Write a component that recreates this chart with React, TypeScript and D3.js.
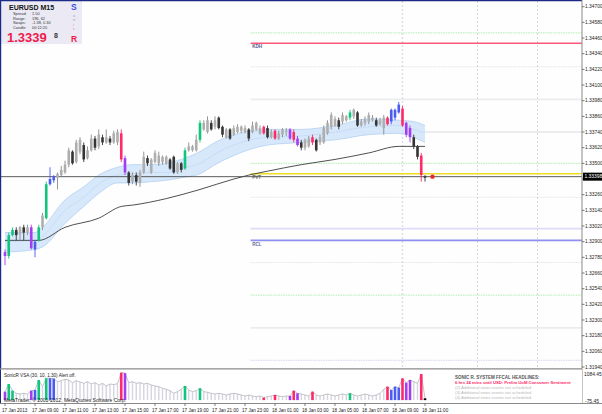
import React from 'react';
import * as d3 from 'd3';

// EURUSD M15, 17 Jan 07:00 .. 18 Jan 11:00 (113 bars)
const opens = [
  1.3282, 1.3279, 1.3295, 1.3299, 1.3296, 1.3301, 1.3297, 1.3301, 1.3284, 1.3291,
  1.3301, 1.3308, 1.3334, 1.3337, 1.3339, 1.3341, 1.3343, 1.3349, 1.3359, 1.3351,
  1.3359, 1.3364, 1.3354, 1.3360, 1.3369, 1.3363, 1.3370, 1.3366, 1.3369, 1.3366,
  1.3366, 1.3373, 1.3354, 1.3343, 1.3336, 1.3341, 1.3335, 1.3343, 1.3354, 1.3343,
  1.3351, 1.3350, 1.3351, 1.3350, 1.3353, 1.3355, 1.3343, 1.3350, 1.3346, 1.3360,
  1.3360, 1.3360, 1.3368, 1.3376, 1.3374, 1.3381, 1.3378, 1.3385, 1.3378, 1.3370,
  1.3376, 1.3372, 1.3374, 1.3375, 1.3374, 1.3376, 1.3374, 1.3376, 1.3373, 1.3378,
  1.3377, 1.3370, 1.3375, 1.3369, 1.3372, 1.3374, 1.3376, 1.3374, 1.3369, 1.3366,
  1.3362, 1.3363, 1.3370, 1.3368, 1.3366, 1.3366, 1.3373, 1.3378, 1.3379, 1.3383,
  1.3382, 1.3383, 1.3385, 1.3386, 1.3389, 1.3379, 1.3381, 1.3382, 1.3383, 1.3383,
  1.3380, 1.3377, 1.3385, 1.3382, 1.3385, 1.3389, 1.3392, 1.3381, 1.3377, 1.3370,
  1.3363, 1.3356, 1.3340,
];
const highs = [
  1.3284, 1.3297, 1.3301, 1.3301, 1.3302, 1.3303, 1.3303, 1.3303, 1.3291, 1.3303,
  1.3312, 1.3336, 1.3347, 1.3341, 1.3343, 1.3348, 1.3352, 1.3362, 1.3360, 1.3368,
  1.3370, 1.3366, 1.3363, 1.3372, 1.3371, 1.3376, 1.3372, 1.3376, 1.3371, 1.3375,
  1.3376, 1.3376, 1.3356, 1.3344, 1.3343, 1.3343, 1.3345, 1.3359, 1.3356, 1.3354,
  1.3360, 1.3359, 1.3356, 1.3356, 1.3354, 1.3356, 1.3351, 1.3351, 1.3362, 1.3366,
  1.3364, 1.3372, 1.3383, 1.3383, 1.3386, 1.3383, 1.3386, 1.3386, 1.3379, 1.3377,
  1.3377, 1.3379, 1.3380, 1.3379, 1.3379, 1.3377, 1.3382, 1.3382, 1.3379, 1.3379,
  1.3379, 1.3376, 1.3376, 1.3375, 1.3377, 1.3377, 1.3377, 1.3376, 1.3371, 1.3368,
  1.3369, 1.3371, 1.3372, 1.3369, 1.3372, 1.3379, 1.3383, 1.3389, 1.3386, 1.3385,
  1.3389, 1.3387, 1.3391, 1.3392, 1.3390, 1.3384, 1.3386, 1.3389, 1.3387, 1.3385,
  1.3385, 1.3387, 1.3386, 1.3392, 1.3392, 1.3397, 1.3394, 1.3382, 1.3379, 1.3372,
  1.3364, 1.3358, 1.3341,
];
const lows = [
  1.3272, 1.3277, 1.3294, 1.3291, 1.3291, 1.3291, 1.3295, 1.3284, 1.3278, 1.3290,
  1.3299, 1.3307, 1.3333, 1.3335, 1.3330, 1.3340, 1.3342, 1.3347, 1.3349, 1.3350,
  1.3357, 1.3351, 1.3353, 1.3359, 1.3360, 1.3361, 1.3364, 1.3365, 1.3364, 1.3365,
  1.3364, 1.3351, 1.3341, 1.3333, 1.3334, 1.3333, 1.3332, 1.3342, 1.3348, 1.3342,
  1.3350, 1.3348, 1.3349, 1.3349, 1.3345, 1.3342, 1.3342, 1.3343, 1.3345, 1.3359,
  1.3359, 1.3359, 1.3366, 1.3375, 1.3373, 1.3375, 1.3376, 1.3376, 1.3370, 1.3369,
  1.3368, 1.3371, 1.3373, 1.3373, 1.3373, 1.3367, 1.3373, 1.3375, 1.3372, 1.3372,
  1.3369, 1.3369, 1.3368, 1.3368, 1.3370, 1.3371, 1.3368, 1.3366, 1.3363, 1.3360,
  1.3360, 1.3362, 1.3364, 1.3359, 1.3364, 1.3365, 1.3372, 1.3376, 1.3378, 1.3376,
  1.3380, 1.3382, 1.3383, 1.3384, 1.3378, 1.3378, 1.3379, 1.3380, 1.3382, 1.3378,
  1.3379, 1.3372, 1.3379, 1.3380, 1.3383, 1.3388, 1.3378, 1.3370, 1.3366, 1.3361,
  1.3353, 1.3336, 1.3336,
];
const closes = [
  1.3279, 1.3295, 1.3299, 1.3295, 1.3301, 1.3297, 1.3301, 1.3285, 1.3290, 1.3301,
  1.3310, 1.3334, 1.3338, 1.3340, 1.3342, 1.3345, 1.3349, 1.3360, 1.3350, 1.3366,
  1.3368, 1.3353, 1.3360, 1.3369, 1.3362, 1.3372, 1.3366, 1.3370, 1.3366, 1.3373,
  1.3374, 1.3353, 1.3343, 1.3335, 1.3341, 1.3336, 1.3343, 1.3355, 1.3350, 1.3353,
  1.3358, 1.3356, 1.3355, 1.3355, 1.3346, 1.3343, 1.3350, 1.3345, 1.3360, 1.3363,
  1.3363, 1.3368, 1.3381, 1.3381, 1.3383, 1.3376, 1.3383, 1.3377, 1.3372, 1.3376,
  1.3369, 1.3377, 1.3378, 1.3378, 1.3377, 1.3369, 1.3379, 1.3381, 1.3377, 1.3373,
  1.3370, 1.3374, 1.3369, 1.3373, 1.3376, 1.3375, 1.3369, 1.3368, 1.3364, 1.3362,
  1.3368, 1.3369, 1.3366, 1.3360, 1.3370, 1.3377, 1.3381, 1.3387, 1.3384, 1.3378,
  1.3387, 1.3386, 1.3389, 1.3391, 1.3379, 1.3382, 1.3384, 1.3387, 1.3385, 1.3379,
  1.3383, 1.3385, 1.3380, 1.3391, 1.3391, 1.3395, 1.3379, 1.3372, 1.3370, 1.3363,
  1.3355, 1.3341, 1.3339,
];
// VSA signal per bar: n normal, g green, r red, p purple, b blue
const signals = [
  'p','g','g','n','n','n','n','p','b','g',
  'n','g','b','b','n','n','n','n','n','n',
  'n','n','n','n','n','n','n','n','n','n',
  'n','r','p','n','n','n','n','n','n','n',
  'n','n','n','n','n','n','n','n','g','n',
  'n','n','g','n','n','n','n','n','n','n',
  'n','n','n','n','n','n','n','n','n','r',
  'n','n','r','n','n','n','p','r','p','n',
  'n','n','r','n','n','n','n','n','n','n',
  'n','n','g','n','n','n','n','n','n','n',
  'n','n','r','b','b','b','r','p','p','n',
  'n','r','n',
];
const volumes = [
  339, 645, 378, 272, 245, 272, 245, 378, 405, 805,
  538, 872, 872, 860, 738, 778, 832, 805, 698, 778,
  725, 672, 738, 645, 698, 605, 672, 565, 645, 620,
  660, 1098, 1080, 698, 738, 672, 698, 645, 672, 605,
  565, 538, 472, 432, 378, 272, 339, 432, 565, 405,
  339, 378, 472, 339, 312, 272, 245, 272, 245, 205,
  245, 272, 245, 205, 165, 205, 165, 138, 165, 99,
  138, 165, 205, 165, 138, 165, 165, 378, 272, 245,
  205, 165, 339, 205, 165, 205, 245, 205, 165, 205,
  245, 205, 272, 205, 165, 205, 245, 205, 165, 205,
  272, 432, 538, 405, 538, 500, 872, 698, 805, 738,
  672, 1045, 72,
];

// Dragon band (EMA34 high / close / low) and EMA89, read at these bars
const bandBars = [0, 8, 10, 16, 21, 25, 30, 34, 39, 43, 47, 52, 56, 61, 70, 79, 88, 97, 105, 109, 112];
const bandUpper = [1.3297, 1.3297, 1.3301, 1.3322, 1.3332, 1.3341, 1.3347, 1.3349, 1.3349, 1.3350, 1.3353, 1.3359, 1.3366, 1.3372, 1.3376, 1.3376, 1.3379, 1.3384, 1.3383, 1.3382, 1.3379];
const bandMid = [1.3290, 1.3291, 1.3294, 1.3314, 1.3324, 1.3334, 1.3341, 1.3342, 1.3343, 1.3343, 1.3346, 1.3350, 1.3357, 1.3364, 1.3370, 1.3371, 1.3374, 1.3378, 1.3379, 1.3376, 1.3373];
const bandLower = [1.3282, 1.3284, 1.3286, 1.3304, 1.3317, 1.3327, 1.3335, 1.3335, 1.3336, 1.3337, 1.3339, 1.3342, 1.3349, 1.3356, 1.3364, 1.3366, 1.3368, 1.3372, 1.3373, 1.3370, 1.3366];
const emaBars = [0, 9, 16, 25, 31, 34, 43, 52, 61, 65, 70, 79, 88, 97, 105, 112];
const emaValues = [1.3291, 1.3291, 1.3301, 1.3308, 1.3317, 1.3318, 1.3323, 1.3330, 1.3338, 1.3341, 1.3344, 1.3349, 1.3353, 1.3358, 1.3363, 1.3363];

// pivot levels of the day
const levelPrices = [1.3450, 1.3442, 1.3424, 1.3399, 1.3374, 1.3350, 1.3342, 1.3324, 1.3300, 1.3291, 1.3274, 1.3249, 1.3224, 1.3199];
const levelKinds = ['green', 'kdh', 'dot', 'band', 'band', 'green', 'pvt', 'dot', 'lav', 'rcl', 'dot', 'green', 'band', 'lavdot'];
const levelLabels: Record<string, string> = { kdh: 'KDH', pvt: 'PVT', rcl: 'RCL' };
const levelStartBar = 65.5;
const gridBars = [106, 126, 142];

const priceTicks = [
  1.3194, 1.3206, 1.3218, 1.3230, 1.3242, 1.3254, 1.3266, 1.3278, 1.3290, 1.3302,
  1.3314, 1.3326, 1.3338, 1.3350, 1.3362, 1.3374, 1.3386, 1.3398, 1.3410, 1.3422,
  1.3434, 1.3446, 1.3458, 1.3470,
];
const bid = 1.33398;
const timeLabels = [
  '17 Jan 2013', '17 Jan 09:00', '17 Jan 11:00', '17 Jan 13:00', '17 Jan 15:00',
  '17 Jan 17:00', '17 Jan 19:00', '17 Jan 21:00', '17 Jan 23:00', '18 Jan 01:00',
  '18 Jan 03:00', '18 Jan 05:00', '18 Jan 07:00', '18 Jan 09:00', '18 Jan 11:00',
];
const timeLabelBars = [0, 8, 16, 24, 32, 40, 48, 56, 64, 72, 80, 88, 96, 104, 112];
const infoLines = [['Spread:', '1.50'], ['Range:', '196, 62'], ['Swaps:', '-1.38, 0.30'], ['Candle:', '00:12:20']];
const newsLines = [
  '6 hrs 24 mins until USD: Prelim UoM Consumer Sentiment',
  '(2)  Additional news events not scheduled',
  '(3)  Additional news events not scheduled',
  '(4)  Additional news events not scheduled',
];

const sigColor: Record<string, string> = { g: '#12c47e', r: '#ff2a68', p: '#a43cf2', b: '#4a5cf2' };
const levelStyle: Record<string, { stroke: string; w: number; dash?: string }> = {
  green: { stroke: '#bff0bf', w: 1.2, dash: '1.5,1' },
  kdh: { stroke: '#ff5a78', w: 1.4 },
  dot: { stroke: '#e4e4e4', w: 1, dash: '1.5,1' },
  band: { stroke: '#ececef', w: 1.8 },
  pvt: { stroke: '#eedd22', w: 1.6 },
  lav: { stroke: '#dedcf8', w: 1.6 },
  rcl: { stroke: '#8f8ff0', w: 1.6 },
  lavdot: { stroke: '#dcdcf6', w: 1.2, dash: '1.5,1' },
};

const FONT = '"Liberation Sans", Arial, sans-serif';
const PLOT_R = 582;

export default function App() {
  const n = opens.length;
  const x = d3.scaleLinear().domain([0, n - 1]).range([5, 425]);
  const y = d3.scaleLinear().domain([1.3194, 1.347]).range([367, 6.7]);
  const v = d3.scaleLinear().domain([-75.45, 1084.45]).range([402, 373]);

  const band = d3.area<number>()
    .x((_, i) => x(bandBars[i]))
    .y0((_, i) => y(bandLower[i]))
    .y1((_, i) => y(bandUpper[i]))
    .curve(d3.curveMonotoneX);
  const lineOf = (bars: number[], vals: number[]) =>
    d3.line<number>().x((_, i) => x(bars[i])).y((d) => y(d)).curve(d3.curveMonotoneX)(vals) || '';
  const volLine = d3.line<number>().x((_, i) => x(i)).y((d) => v(d))(volumes) || '';
  const v0 = v(0);

  return (
    <svg width={602} height={414} style={{ position: 'absolute', left: 0, top: 0, background: '#fff' }} fontFamily={FONT}>
      <rect x={0} y={0} width={602} height={414} fill="#ffffff" />
      <rect x={0} y={0} width={PLOT_R} height={368} fill="#fdfefd" />

      {/* grid verticals */}
      {gridBars.map((b, k) => (
        <line key={'g' + k} x1={x(b)} x2={x(b)} y1={1} y2={368}
          stroke={k === 0 ? '#dcdce8' : '#cfcfcf'} strokeWidth={k === 0 ? 1.4 : 0.8} strokeDasharray="2,2" />
      ))}

      {/* pivot levels */}
      {levelPrices.map((p, k) => {
        const st = levelStyle[levelKinds[k]];
        const lab = levelLabels[levelKinds[k]];
        return (
          <g key={'l' + k}>
            <line x1={x(levelStartBar)} x2={PLOT_R} y1={y(p)} y2={y(p)} stroke={st.stroke}
              strokeWidth={st.w} strokeDasharray={st.dash} />
            {lab && (
              <text x={x(levelStartBar) + 1.5} y={y(p) + 5.2} fontSize={4.6} fontWeight="bold"
                fill={lab === 'KDH' ? '#5a5a8a' : lab === 'RCL' ? '#6a6aa0' : '#707070'}>{lab}</text>
            )}
          </g>
        );
      })}

      {/* dragon band */}
      <path d={band(bandMid) || ''} fill="#d5e7fb" opacity={0.95} />
      <path d={lineOf(bandBars, bandUpper)} fill="none" stroke="#b3d0f3" strokeWidth={0.8} />
      <path d={lineOf(bandBars, bandLower)} fill="none" stroke="#b3d0f3" strokeWidth={0.8} />
      <path d={lineOf(bandBars, bandMid)} fill="none" stroke="#aecbf0" strokeWidth={0.7} strokeDasharray="1.5,1" />
      <path d={lineOf(emaBars, emaValues)} fill="none" stroke="#3c3c3c" strokeWidth={0.9} />

      {/* bid line */}
      <line x1={1} x2={PLOT_R} y1={y(bid)} y2={y(bid)} stroke="#4a4a4a" strokeWidth={0.9} />

      {/* candles */}
      {opens.map((o, i) => {
        const c = closes[i];
        const up = c >= o;
        const s = signals[i];
        const col = s !== 'n' ? sigColor[s] : up ? '#aeaeae' : '#353535';
        const wick = s !== 'n' ? sigColor[s] : up ? '#8a8a8a' : '#353535';
        const top = y(Math.max(o, c));
        const h = Math.max(1, Math.abs(y(o) - y(c)));
        return (
          <g key={'c' + i}>
            <line x1={x(i)} x2={x(i)} y1={y(highs[i])} y2={y(lows[i])} stroke={wick} strokeWidth={0.9} />
            <rect x={x(i) - 1.3} y={top} width={2.6} height={h} fill={col} />
          </g>
        );
      })}
      <circle cx={x(n + 1)} cy={y(bid)} r={2.2} fill="#e82828" />

      {/* info box */}
      <rect x={1} y={1} width={81} height={43} fill="#ebeaf4" />
      <text x={9} y={9.5} fontSize={7} fontWeight="bold" fill="#111">EURUSD  M15</text>
      {infoLines.map((l, k) => (
        <g key={'i' + k} fontSize={3.9} fill="#333">
          <text x={13} y={15.3 + k * 4.4}>{l[0]}</text>
          <text x={32} y={15.3 + k * 4.4}>{l[1]}</text>
        </g>
      ))}
      <text x={7} y={41.5} fontSize={13} fontWeight="bold" fill="#ee1c4c">1.3339</text>
      <text x={54} y={37.5} fontSize={7} fontWeight="bold" fill="#333">8</text>
      <text x={71} y={9.5} fontSize={8.5} fontWeight="bold" fill="#3a4ee8">S</text>
      {['o', 'n', 'i', 'c'].map((ch, k) => (
        <text key={'s' + k} x={73} y={16.5 + k * 4.6} fontSize={4.3} fill={k < 2 ? '#9a9ad0' : '#e08aa0'}>{ch}</text>
      ))}
      <text x={71} y={41.5} fontSize={8.5} fontWeight="bold" fill="#ee1c4c">R</text>

      {/* borders */}
      <line x1={0} x2={PLOT_R} y1={0.6} y2={0.6} stroke="#1c2a86" strokeWidth={1.2} />
      <line x1={0.6} x2={0.6} y1={0} y2={404} stroke="#1c2a86" strokeWidth={1.2} />
      <line x1={PLOT_R} x2={PLOT_R} y1={0} y2={404} stroke="#8a8a8a" strokeWidth={1} />

      {/* price axis */}
      {priceTicks.map((p, k) => (
        <g key={'p' + k}>
          <line x1={PLOT_R} x2={PLOT_R + 2.5} y1={y(p)} y2={y(p)} stroke="#444" strokeWidth={0.7} />
          {Math.abs(y(p) - y(bid)) > 7 && (
            <text x={PLOT_R + 3} y={y(p) + 1.7} fontSize={4.9} fill="#222">{p.toFixed(5)}</text>
          )}
        </g>
      ))}
      <rect x={PLOT_R + 1} y={y(bid) - 4} width={19} height={8} fill="#000" />
      <text x={PLOT_R + 2.5} y={y(bid) + 1.8} fontSize={4.9} fill="#fff">{bid.toFixed(5)}</text>

      {/* indicator panel */}
      <rect x={1} y={369} width={PLOT_R - 1} height={34} fill="#ffffff" />
      <line x1={0} x2={PLOT_R} y1={368.8} y2={368.8} stroke="#8a8a8a" strokeWidth={1.2} />
      {volumes.map((vol, i) => (
        <rect key={'v' + i} x={x(i) - 0.7} y={v(vol)} width={1.4} height={v0 - v(vol)} fill="#d6d6de" />
      ))}
      <path d={volLine} fill="none" stroke="#b4b4bc" strokeWidth={0.8} />
      {volumes.map((vol, i) => {
        const s = signals[i];
        if (i === n - 1) {
          return <rect key={'vs' + i} x={x(i) - 1.3} y={v(vol)} width={2.6} height={v0 - v(vol)} fill="#000" />;
        }
        if (s === 'n') return null;
        return <rect key={'vs' + i} x={x(i) - 1.3} y={v(vol)} width={2.6} height={v0 - v(vol)} fill={sigColor[s]} />;
      })}
      <text x={4} y={376.5} fontSize={4.6} fill="#222">SonicR VSA   (30, 10, 1.30)    Alert off.</text>
      <text x={4} y={402} fontSize={5} fill="#222">MetaTrader, © 2001-2012, MetaQuotes Software Corp.</text>
      <text x={455} y={378.5} fontSize={4.5} fontWeight="bold" fill="#555">SONIC R. SYSTEM  FFCAL HEADLINES:</text>
      {newsLines.map((t, k) => (
        <text key={'n' + k} x={455} y={384 + k * 5} fontSize={4.2} fontWeight={k === 0 ? 'bold' : 'normal'}
          fill={k === 0 ? '#ff2a68' : '#b8b8b8'}>{t}</text>
      ))}
      <text x={PLOT_R + 2} y={375.5} fontSize={4.9} fill="#222">1084.45</text>
      <text x={PLOT_R + 3} y={403} fontSize={4.9} fill="#222">-75.45</text>

      {/* time axis */}
      <line x1={0} x2={602} y1={403.5} y2={403.5} stroke="#8a8a8a" strokeWidth={1} />
      {timeLabels.map((t, k) => (
        <g key={'t' + k}>
          <line x1={x(timeLabelBars[k])} x2={x(timeLabelBars[k])} y1={403.5} y2={406} stroke="#444" strokeWidth={0.7} />
          <text x={x(timeLabelBars[k]) - 3} y={411.5} fontSize={4.6} fill="#222">{t}</text>
        </g>
      ))}
    </svg>
  );
}
